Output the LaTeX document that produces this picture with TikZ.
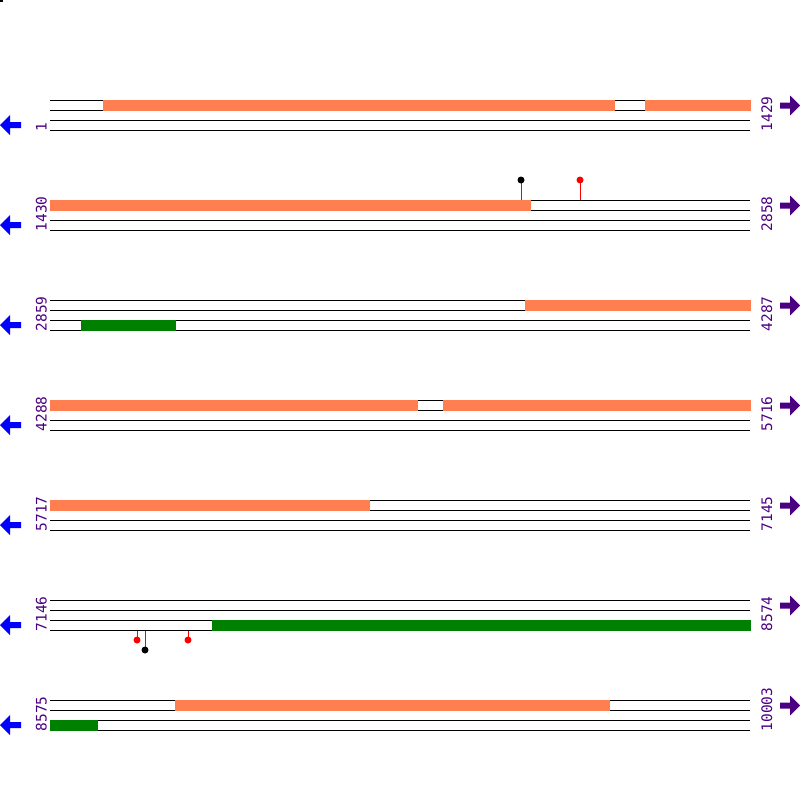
\documentclass[tikz,border=0pt]{standalone}
\usepackage{fontspec}
\newfontfamily\labfont{DejaVu Sans Mono}
\definecolor{barcoral}{RGB}{255,127,80}
\definecolor{bargreen}{RGB}{0,128,0}
\definecolor{labindigo}{RGB}{75,0,130}
\begin{document}
\begin{tikzpicture}[x=1pt,y=-1pt,
  seqline/.style={black,line width=1pt},
  coralbar/.style={fill=barcoral,draw=none},
  greenbar/.style={fill=bargreen,draw=none},
  poslabel/.style={text=labindigo,font=\labfont\fontsize{14.5}{14.5}\selectfont,inner sep=0pt,rotate=90,anchor=base west},
  stick/.style={red,line width=1pt},
  reddot/.style={fill=red,draw=none},
  blackdot/.style={fill=black,draw=none},
  leftarrow/.style={fill=blue,draw=none},
  rightarrow/.style={fill=labindigo,draw=none}]
\useasboundingbox (0,0) rectangle (800,800);
\fill[black] (0,0) rectangle (2.5,2.5);
\foreach \i/\l/\r in {0/1/1429,1/1430/2858,2/2859/4287,3/4288/5716,4/5717/7145,5/7146/8574,6/8575/10003}{
  \pgfmathsetmacro\yy{100+100*\i}
  \foreach \k in {0,10,20,30}{
    \draw[seqline] (50,\yy+\k) -- (750,\yy+\k);
  }
  \node[poslabel] (L\i) at (46.5,\yy+31.5) {\l};
  \node[poslabel] (R\i) at (772,\yy+31.5) {\r};
  \fill[leftarrow] (0,\yy+25) -- (10,\yy+15) -- (10,\yy+22) -- (21,\yy+22) -- (21,\yy+28) -- (10,\yy+28) -- (10,\yy+35) -- cycle;
  \fill[rightarrow] (800,\yy+5.5) -- (790,\yy-4.5) -- (790,\yy+2.5) -- (780,\yy+2.5) -- (780,\yy+8.5) -- (790,\yy+8.5) -- (790,\yy+15.5) -- cycle;
}
% block 1
\fill[coralbar] (103,99.5) rectangle (615,110.5);
\fill[coralbar] (645,99.5) rectangle (750.5,110.5);
% block 2
\fill[coralbar] (49.5,199.5) rectangle (531,210.5);
\draw[stick] (521,199.5) -- (521,180);
\fill[blackdot] (521,180) circle (3.5);
\draw[stick] (580,199.5) -- (580,180);
\fill[reddot] (580,180) circle (3.5);
% block 3
\fill[coralbar] (525,299.5) rectangle (750.5,310.5);
\fill[greenbar] (81,319.5) rectangle (176,330.5);
% block 4
\fill[coralbar] (49.5,399.5) rectangle (418,410.5);
\fill[coralbar] (443,399.5) rectangle (750.5,410.5);
% block 5
\fill[coralbar] (49.5,499.5) rectangle (370,510.5);
% block 6
\fill[greenbar] (212,619.5) rectangle (750.5,630.5);
\draw[stick] (137,630.5) -- (137,640);
\fill[reddot] (137,640) circle (3.5);
\draw[stick] (145,630.5) -- (145,650);
\fill[blackdot] (145,650) circle (3.5);
\draw[stick] (188,630.5) -- (188,640);
\fill[reddot] (188,640) circle (3.5);
% block 7
\fill[coralbar] (175,699.5) rectangle (610,710.5);
\fill[greenbar] (49.5,719.5) rectangle (98,730.5);
\end{tikzpicture}
\end{document}
